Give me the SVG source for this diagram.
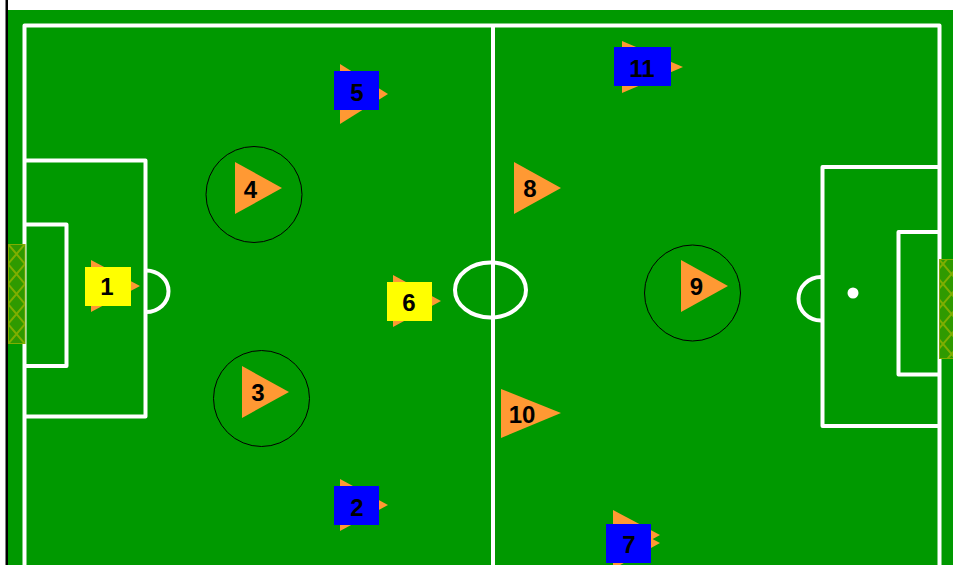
<svg xmlns="http://www.w3.org/2000/svg" width="953" height="565" viewBox="0 0 953 565">
<style>
.line{fill:none;stroke:#fff;stroke-width:4;stroke-linejoin:round}
.tri{fill:#f93}
.ring{fill:none;stroke:#000;stroke-width:1}
.blue{fill:#00f}
.yel{fill:#ff0}
.netbg{fill:#2f9a00}
.net{fill:url(#netp);stroke:#7fae00;stroke-width:1}
text{font-family:"Liberation Sans",Arial,sans-serif;font-weight:bold;font-size:24px;text-anchor:middle;fill:#000}
</style>
<defs>
<pattern id="netp" patternUnits="userSpaceOnUse" width="17" height="20" x="8" y="244">
<path d="M0 0L17 20M17 0L0 20" stroke="#7fae00" stroke-width="2" fill="none"/>
</pattern>
</defs>
<rect width="953" height="565" fill="#fff"/>
<rect x="8" y="10" width="945" height="555" fill="#090"/>
<rect x="5.500" y="0" width="2.500" height="565" fill="#000"/>
<g id="pitch">
<path class="line" d="M24.500 565V25.500H939.500V565"/>
<path class="line" d="M493 25.500V565"/>
<ellipse class="line" cx="490.500" cy="290" rx="35.500" ry="27.500"/>
<path class="line" d="M26 160.500H145.500V416.500H26"/>
<path class="line" d="M26 224.500H66.500V366H26"/>
<path class="line" d="M146 270.500A22.500 20.750 0 0 1 146 312"/>
<path class="line" d="M938 167H822.500V426H938"/>
<path class="line" d="M938 232H898.500V374.500H938"/>
<path class="line" d="M821 277A22.500 21.750 0 0 0 821 320.500"/>
<circle cx="853" cy="293" r="5.500" fill="#fff"/>
<rect class="netbg" x="8.500" y="244.500" width="16.500" height="99"/>
<rect class="net" x="8.500" y="244.500" width="16.500" height="99"/>
<rect class="netbg" x="939.500" y="259.500" width="14" height="99"/>
<rect class="net" x="939.500" y="259.500" width="14" height="99"/>
</g>
<g id="n1"><polygon class="tri" points="91,260 140,286 91,312"/><rect class="yel" x="85" y="267" width="46" height="39"/><text x="107" y="295">1</text></g>
<g id="n2"><polygon class="tri" points="340,479 388,505 340,531"/><rect class="blue" x="334" y="486" width="45" height="39"/><text x="357" y="516">2</text></g>
<g id="n3"><circle class="ring" cx="261.500" cy="398.500" r="48"/><polygon class="tri" points="242,366 289,392 242,418"/><text x="258" y="401">3</text></g>
<g id="n4"><circle class="ring" cx="254" cy="194.500" r="48"/><polygon class="tri" points="235,162 282,188 235,214"/><text x="250.500" y="198">4</text></g>
<g id="n5"><polygon class="tri" points="340,64 388,94 340,124"/><rect class="blue" x="334" y="71" width="45" height="39"/><text x="357" y="101">5</text></g>
<g id="n6"><polygon class="tri" points="393,275 441,301 393,327"/><rect class="yel" x="387" y="282" width="45" height="39"/><text x="409" y="311">6</text></g>
<g id="n7"><polygon class="tri" points="613,510 660,535 613,561"/><polygon class="tri" points="613,518 660,543 613,569"/><rect class="blue" x="606" y="524" width="45" height="39"/><text x="629" y="553">7</text></g>
<g id="n8"><polygon class="tri" points="514,162 561,188 514,214"/><text x="530" y="197">8</text></g>
<g id="n9"><circle class="ring" cx="692.500" cy="293" r="48"/><polygon class="tri" points="681,260 728,286 681,312"/><text x="696.500" y="295">9</text></g>
<g id="n10"><polygon class="tri" points="501,389 561,413 501,438"/><text x="522" y="423">10</text></g>
<g id="n11"><polygon class="tri" points="622,41 683,67 622,93"/><rect class="blue" x="614" y="47" width="57" height="39"/><text x="642" y="77">11</text></g>
</svg>
